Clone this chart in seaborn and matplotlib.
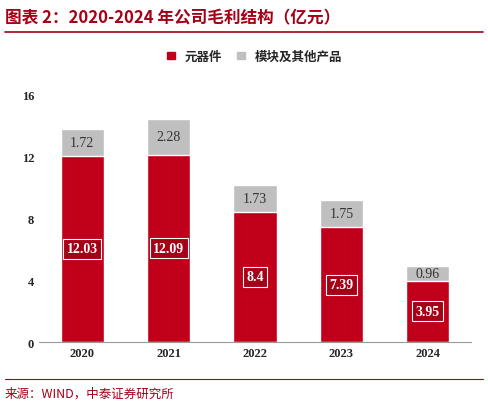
import numpy as np
import matplotlib.pyplot as plt
import seaborn as sns
import pandas as pd

years = ['2020', '2021', '2022', '2023', '2024']
components = [12.03, 12.09, 8.4, 7.39, 3.95]
others = [1.72, 2.28, 1.73, 1.75, 0.96]

sns.set_style('white')
plt.rcParams['font.family'] = ['Noto Sans CJK SC', 'DejaVu Sans']

red = '#C0001A'
gray = '#BFBFBF'

fig = plt.figure(figsize=(4.88, 4.06), dpi=100)
ax = fig.add_axes([0.08, 0.155, 0.885, 0.611])

df = pd.DataFrame({'year': years, 'comp': components, 'total': np.add(components, others)})
sns.barplot(data=df, x='year', y='total', color=gray, width=0.5, ax=ax, saturation=1)
sns.barplot(data=df, x='year', y='comp', color=red, width=0.5, ax=ax, saturation=1)

for i, (c, o) in enumerate(zip(components, others)):
    ax.text(i, c / 2, f'{c:g}', ha='center', va='center', color='white', fontsize=10,
            fontweight='bold', family='Liberation Serif',
            bbox=dict(boxstyle='square,pad=0.25', fc='#A50016', ec='white', lw=0.8))
    ax.text(i, c + o / 2, f'{o:g}', ha='center', va='center', color='#333333',
            fontsize=10, family='Liberation Serif')

ax.set_ylim(0, 16)
ax.set_yticks([0, 4, 8, 12, 16])
ax.set_xlabel('')
ax.set_ylabel('')
for lab in ax.get_xticklabels() + ax.get_yticklabels():
    lab.set_fontfamily('Liberation Serif')
    lab.set_fontweight('bold')
    lab.set_fontsize(9)
sns.despine(ax=ax, left=True)
ax.spines['bottom'].set_color('#999999')
ax.tick_params(axis='both', length=0)

# legend
from matplotlib.patches import Patch
ax.legend(handles=[Patch(color=red, label='元器件'), Patch(color=gray, label='模块及其他产品')],
          loc='lower center', bbox_to_anchor=(0.5, 1.08), ncol=2, frameon=False,
          fontsize=9, handlelength=0.6, handleheight=0.6, columnspacing=1.2,
          prop={'weight': 'bold', 'size': 9})

fig.text(0.01, 0.955, '图表 2：2020-2024 年公司毛利结构（亿元）', color='#A50016',
         fontsize=12, fontweight='bold', style='italic', va='center')
fig.add_artist(plt.Line2D([0.01, 0.99], [0.918, 0.918], color='#A50016', lw=1.2))
fig.add_artist(plt.Line2D([0.01, 0.99], [0.063, 0.063], color='#A50016', lw=0.8))
fig.text(0.01, 0.03, '来源：WIND，中泰证券研究所', color='#A50016', fontsize=9, va='center')

fig.savefig('out.png', dpi=100)
